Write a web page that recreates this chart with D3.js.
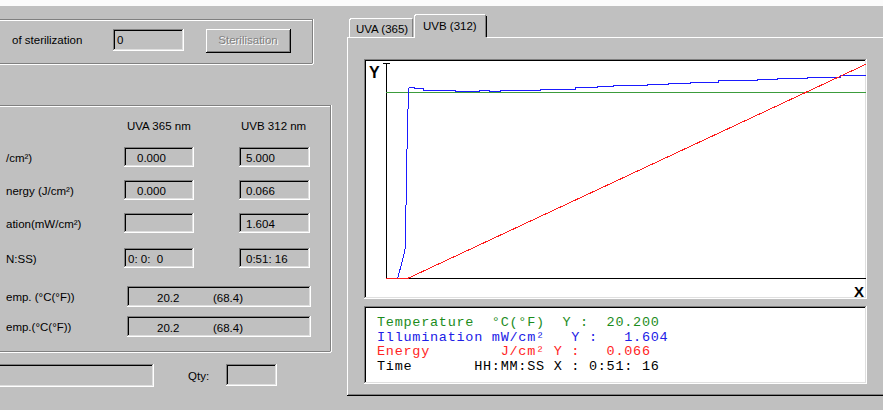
<!DOCTYPE html>
<html><head><meta charset="utf-8">
<script src="https://cdn.jsdelivr.net/npm/d3@7"></script>
<style>
body{margin:0;background:#c0c0c0;overflow:hidden}
svg{display:block}
.ui{font-family:"Liberation Sans",Arial,sans-serif;font-size:11.5px;fill:#000;white-space:pre}
.mono{font-family:"Liberation Mono","Courier New",monospace;font-size:13.5px;letter-spacing:0.73px;white-space:pre}
</style>
</head><body>
<svg id="c" width="883" height="410"></svg>
<script>
// ---------------- data ----------------
// time axis in minutes (0 .. 0:51:16)
const timeEnd = 51.27;
// temperature (°C)
const tempTime = [0, 51.27];
const tempValue = [20.2, 20.2];
// illumination (mW/cm²) – ramp-up samples (linear)
const illumRiseTime = [0, 1.25, 2.03, 2.11, 2.21, 2.32, 2.46];
const illumRiseValue = [0, 0, 0.222, 0.443, 0.881, 1.290, 1.509];
// illumination (mW/cm²) – plateau samples (stepped)
const illumStepTime = [2.46, 3.10, 4.06, 7.38, 10.05, 11.12, 12.19, 16.47, 20.21, 22.57, 24.28, 27.91, 30.16, 32.51, 35.51, 39.68, 41.82, 45.03, 48.56, 51.27];
const illumStepValue = [1.509, 1.501, 1.490, 1.479, 1.490, 1.479, 1.490, 1.495, 1.509, 1.519, 1.527, 1.535, 1.545, 1.553, 1.564, 1.574, 1.582, 1.593, 1.604, 1.604];
// energy (J/cm²)
const energyTime = [0, 2.30, 51.27];
const energyValue = [0, 0, 0.066];
// axis maxima of each series
const tempMax = 23.35, illumMax = 1.701, energyMax = 0.0663;

// legend / readouts
const legendLines = [
  {text: "Temperature  °C(°F)  Y :  20.200", color: "#1c8c1c"},
  {text: "Illumination mW/cm²   Y :   1.604", color: "#2020e6"},
  {text: "Energy        J/cm² Y :   0.066", color: "#ff2424"},
  {text: "Time       HH:MM:SS X : 0:51: 16", color: "#000000"}
];
const tabLabels = ["UVA (365)", "UVB (312)"];
const columnHeaders = ["UVA 365 nm", "UVB 312 nm"];
const rowLabels = ["/cm²)", "nergy (J/cm²)", "ation(mW/cm²)", "N:SS)", "emp. (°C(°F))", "emp.(°C(°F))"];
const uvaValues = ["0.000", "0.000", "", "0: 0:  0"];
const uvbValues = ["5.000", "0.066", "1.604", "0:51: 16"];
const tempReadouts = [["20.2", "(68.4)"], ["20.2", "(68.4)"]];

// ---------------- drawing ----------------
const svg = d3.select("#c");
const g = svg.append("g").attr("shape-rendering", "crispEdges");

function hline(x1, x2, y, c) { g.append("line").attr("x1", x1).attr("x2", x2).attr("y1", y + 0.5).attr("y2", y + 0.5).attr("stroke", c); }
function vline(x, y1, y2, c) { g.append("line").attr("x1", x + 0.5).attr("x2", x + 0.5).attr("y1", y1).attr("y2", y2).attr("stroke", c); }
function rect(x, y, w, h, f) { g.append("rect").attr("x", x).attr("y", y).attr("width", w).attr("height", h).attr("fill", f); }
function sunken(x, y, w, h, fill) {
  rect(x, y, w, h, fill || "#c0c0c0");
  hline(x, x + w, y, "#808080"); vline(x, y, y + h, "#808080");
  hline(x + 1, x + w - 1, y + 1, "#000"); vline(x + 1, y + 1, y + h - 1, "#000");
  hline(x, x + w, y + h - 1, "#fff"); vline(x + w - 1, y, y + h, "#fff");
  hline(x + 1, x + w - 1, y + h - 2, "#dfdfdf"); vline(x + w - 2, y + 1, y + h - 1, "#dfdfdf");
}
function raised(x, y, w, h) {
  hline(x, x + w, y, "#fff"); vline(x, y, y + h, "#fff");
  hline(x, x + w, y + h - 1, "#000"); vline(x + w - 1, y, y + h, "#000");
  hline(x + 1, x + w - 1, y + h - 2, "#808080"); vline(x + w - 2, y + 1, y + h - 1, "#808080");
}
function etchedBox(x1, y1, x2, y2) {
  hline(x1, x2, y1, "#808080"); hline(x1, x2 + 1, y1 + 1, "#fff");
  vline(x2, y1, y2, "#808080"); vline(x2 + 1, y1, y2 + 1, "#fff");
  hline(x1, x2, y2, "#808080"); hline(x1, x2 + 1, y2 + 1, "#fff");
}
function text(x, y, s, opts) {
  const t = svg.append("text").attr("class", "ui").attr("x", x).attr("y", y).attr("xml:space", "preserve").text(s);
  if (opts && opts.fill) t.style("fill", opts.fill);
  if (opts && opts.anchor) t.attr("text-anchor", opts.anchor);
  return t;
}

// top white strip
rect(0, 0, 883, 6, "#fbfbfb");

// group box 1
etchedBox(-2, 19, 312, 63);
text(12, 44, "of sterilization");
sunken(113, 29, 71, 22);
text(117, 44, "0");
rect(206, 29, 85, 24, "#c0c0c0");
raised(206, 29, 85, 24);
text(249, 45, "Sterilisation", {fill: "#fff", anchor: "middle"});
text(248, 44, "Sterilisation", {fill: "#808080", anchor: "middle"});

// group box 2
etchedBox(-2, 105, 330, 351);
const colX = [124, 239];
const colW = 70;
columnHeaders.forEach((h, i) => text(i === 0 ? 127 : 241, 130, h));
const rowY = [147, 180, 213, 248];
rowY.forEach((y, r) => {
  sunken(colX[0], y, colW, 20);
  sunken(colX[1], y, colW + 1, 20);
  text(r === 3 ? 128 : 137, y + 15, uvaValues[r]);
  text(246, y + 15, uvbValues[r]);
});
const labelBase = [162, 195, 228, 263, 301, 331];
rowLabels.forEach((l, i) => text(6, labelBase[i], l));
const wideY = [286, 316];
wideY.forEach((y, i) => {
  sunken(127, y, 184, 21);
  text(157, y + 16, tempReadouts[i][0]);
  text(213, y + 16, tempReadouts[i][1]);
});

// bottom row
sunken(-2, 364, 156, 23);
text(188, 380, "Qty:");
sunken(226, 364, 51, 22);

// right tab panel
hline(347, 883, 37, "#fff");
vline(347, 37, 396, "#fff");
hline(348, 883, 394, "#808080");
hline(347, 883, 395, "#000");
// tab UVA (unselected)
rect(349, 18, 64, 19, "#c0c0c0");
hline(351, 412, 18, "#fff"); vline(349, 20, 37, "#fff");
g.append("line").attr("x1", 349.5).attr("y1", 20).attr("x2", 351).attr("y2", 18.5).attr("stroke", "#fff");
vline(412, 19, 37, "#808080");
text(356, 33, tabLabels[0]);
// tab UVB (selected)
rect(414, 14, 73, 24, "#c0c0c0");
hline(416, 485, 14, "#fff"); vline(414, 16, 38, "#fff");
g.append("line").attr("x1", 414.5).attr("y1", 16).attr("x2", 416).attr("y2", 14.5).attr("stroke", "#fff");
vline(485, 15, 37, "#808080"); vline(486, 16, 37, "#000");
text(423, 30, tabLabels[1]);

// chart frame
sunken(364, 59, 503, 240, "#fff");
// legend frame
sunken(364, 306, 503, 78, "#fff");

// scales
const x = d3.scaleLinear().domain([0, timeEnd]).range([386, 865.5]);
const yTemp = d3.scaleLinear().domain([0, tempMax]).range([278, 63]);
const yIllum = d3.scaleLinear().domain([0, illumMax]).range([278, 63]);
const yEnergy = d3.scaleLinear().domain([0, energyMax]).range([278, 63]);

// axes
const axisG = svg.append("g").attr("shape-rendering", "crispEdges");
axisG.append("line").attr("x1", x(0) + 0.5).attr("x2", x(0) + 0.5).attr("y1", yTemp.range()[1]).attr("y2", yTemp.range()[0] + 1).attr("stroke", "#000");
axisG.append("line").attr("x1", x(0) - 3).attr("x2", x(0) + 4).attr("y1", yTemp.range()[1] + 0.5).attr("y2", yTemp.range()[1] + 0.5).attr("stroke", "#000");
axisG.append("line").attr("x1", x(0)).attr("x2", x(timeEnd)).attr("y1", yTemp.range()[0] + 0.5).attr("y2", yTemp.range()[0] + 0.5).attr("stroke", "#000");
svg.append("text").attr("x", 369).attr("y", 78).style("font-family", "Liberation Sans, Arial").style("font-size", "16px").style("font-weight", "bold").text("Y");
svg.append("text").attr("x", 854).attr("y", 297).style("font-family", "Liberation Sans, Arial").style("font-size", "15px").style("font-weight", "bold").text("X");

// series
const plot = svg.append("g").attr("shape-rendering", "crispEdges").attr("fill", "none").attr("stroke-width", 1);
const tempLine = d3.line().x(i => x(tempTime[i])).y(i => yTemp(tempValue[i]) + 0.5);
plot.append("path").attr("d", tempLine(d3.range(tempTime.length))).attr("stroke", "#3c9c3c").attr("stroke-width", 1.5);
const illumRise = d3.line().x(i => x(illumRiseTime[i])).y(i => yIllum(illumRiseValue[i]) + 0.5);
plot.append("path").attr("d", illumRise(d3.range(illumRiseTime.length))).attr("stroke", "#1a1aff");
const illumStep = d3.line().curve(d3.curveStepAfter).x(i => x(illumStepTime[i])).y(i => yIllum(illumStepValue[i]) + 0.5);
plot.append("path").attr("d", illumStep(d3.range(illumStepTime.length))).attr("stroke", "#1a1aff");
const energyLine = d3.line().x(i => x(energyTime[i])).y(i => yEnergy(energyValue[i]) + 0.5);
plot.append("path").attr("d", energyLine(d3.range(energyTime.length))).attr("stroke", "#ff1a1a");

// legend text
legendLines.forEach((l, i) => {
  svg.append("text").attr("class", "mono").attr("x", 377).attr("y", 326 + i * 14.6)
    .attr("xml:space", "preserve").style("fill", l.color).text(l.text);
});
</script>
</body></html>
